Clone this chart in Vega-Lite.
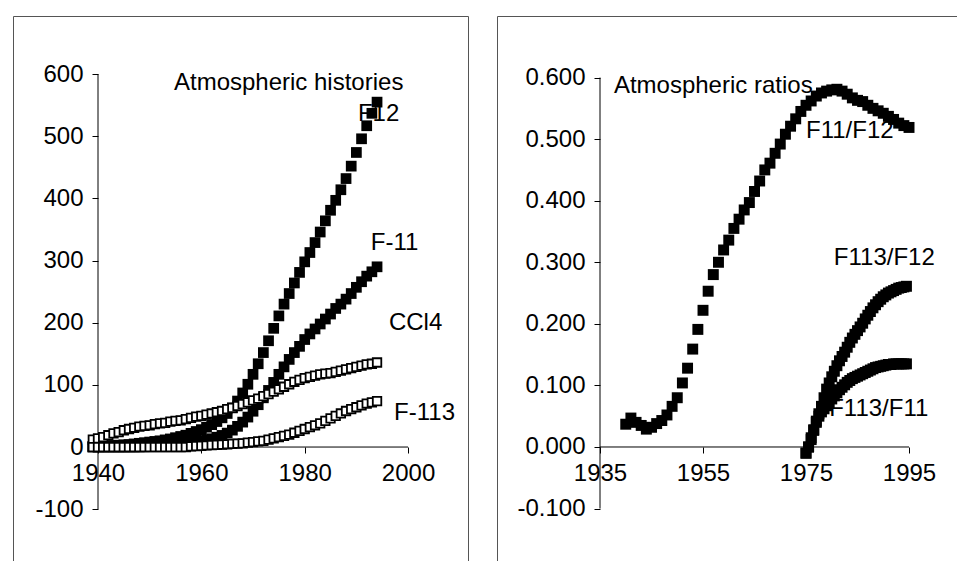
{
"$schema":"https://vega.github.io/schema/vega-lite/v6.json",
"padding":{"left":12,"top":15,"right":0,"bottom":0},
"spacing":27,
"background":"white",
"config":{"view":{"stroke":"#555","strokeWidth":1},"axis":{"domain":false,"grid":false,"tickColor":"black","tickSize":6,"tickWidth":1,"labelFont":"Liberation Sans","labelFontSize":24,"labelColor":"black","labelFlush":false,"labelOverlap":false}},
"datasets":{
"ax1":[{"x":1940,"y":-100,"x2":1940,"y2":600},{"x":1940,"y":0,"x2":2000,"y2":0}],
"ax2":[{"x":1935,"y":-0.1,"x2":1935,"y2":0.6},{"x":1935,"y":0,"x2":1995,"y2":0}],
"lab1":[{"x":1954.7,"y":585,"text":"Atmospheric histories"},{"x":1990.3,"y":536,"text":"F12"},{"x":1992.8,"y":328,"text":"F-11"},{"x":1996.3,"y":199,"text":"CCl4"},{"x":1997.3,"y":55,"text":"F-113"}],
"lab2":[{"x":1937.7,"y":0.586,"text":"Atmospheric ratios"},{"x":1975.0,"y":0.513,"text":"F11/F12"},{"x":1980.4,"y":0.307,"text":"F113/F12"},{"x":1979.5,"y":0.062,"text":"F113/F11"}],
"hist":[
{"s":"F12","x":1939,"y":1},{"s":"F12","x":1940,"y":1},{"s":"F12","x":1941,"y":1.5},{"s":"F12","x":1942,"y":2},{"s":"F12","x":1943,"y":2.5},{"s":"F12","x":1944,"y":3},{"s":"F12","x":1945,"y":3.5},{"s":"F12","x":1946,"y":4},{"s":"F12","x":1947,"y":5},{"s":"F12","x":1948,"y":6},{"s":"F12","x":1949,"y":7},{"s":"F12","x":1950,"y":8},{"s":"F12","x":1951,"y":9},{"s":"F12","x":1952,"y":10},{"s":"F12","x":1953,"y":11.5},{"s":"F12","x":1954,"y":13},{"s":"F12","x":1955,"y":15},{"s":"F12","x":1956,"y":17},{"s":"F12","x":1957,"y":19},{"s":"F12","x":1958,"y":22},{"s":"F12","x":1959,"y":25},{"s":"F12","x":1960,"y":28},{"s":"F12","x":1961,"y":32},{"s":"F12","x":1962,"y":36},{"s":"F12","x":1963,"y":41},{"s":"F12","x":1964,"y":47},{"s":"F12","x":1965,"y":54},{"s":"F12","x":1966,"y":63},{"s":"F12","x":1967,"y":74},{"s":"F12","x":1968,"y":87},{"s":"F12","x":1969,"y":101},{"s":"F12","x":1970,"y":117},{"s":"F12","x":1971,"y":134},{"s":"F12","x":1972,"y":152},{"s":"F12","x":1973,"y":171},{"s":"F12","x":1974,"y":191},{"s":"F12","x":1975,"y":211},{"s":"F12","x":1976,"y":230},{"s":"F12","x":1977,"y":247},{"s":"F12","x":1978,"y":264},{"s":"F12","x":1979,"y":281},{"s":"F12","x":1980,"y":298},{"s":"F12","x":1981,"y":313},{"s":"F12","x":1982,"y":329},{"s":"F12","x":1983,"y":346},{"s":"F12","x":1984,"y":364},{"s":"F12","x":1985,"y":381},{"s":"F12","x":1986,"y":397},{"s":"F12","x":1987,"y":414},{"s":"F12","x":1988,"y":432},{"s":"F12","x":1989,"y":452},{"s":"F12","x":1990,"y":474},{"s":"F12","x":1991,"y":496},{"s":"F12","x":1992,"y":517},{"s":"F12","x":1993,"y":537},{"s":"F12","x":1994,"y":555},
{"s":"F-11","x":1939,"y":0},{"s":"F-11","x":1940,"y":0},{"s":"F-11","x":1941,"y":0.1},{"s":"F-11","x":1942,"y":0.1},{"s":"F-11","x":1943,"y":0.1},{"s":"F-11","x":1944,"y":0.1},{"s":"F-11","x":1945,"y":0.1},{"s":"F-11","x":1946,"y":0.2},{"s":"F-11","x":1947,"y":0.2},{"s":"F-11","x":1948,"y":0.3},{"s":"F-11","x":1949,"y":0.5},{"s":"F-11","x":1950,"y":0.6},{"s":"F-11","x":1951,"y":0.9},{"s":"F-11","x":1952,"y":1.3},{"s":"F-11","x":1953,"y":1.8},{"s":"F-11","x":1954,"y":2.4},{"s":"F-11","x":1955,"y":3.3},{"s":"F-11","x":1956,"y":4.3},{"s":"F-11","x":1957,"y":5.3},{"s":"F-11","x":1958,"y":6.6},{"s":"F-11","x":1959,"y":8},{"s":"F-11","x":1960,"y":9.4},{"s":"F-11","x":1961,"y":11.4},{"s":"F-11","x":1962,"y":13.3},{"s":"F-11","x":1963,"y":15.8},{"s":"F-11","x":1964,"y":18.7},{"s":"F-11","x":1965,"y":22.4},{"s":"F-11","x":1966,"y":27.2},{"s":"F-11","x":1967,"y":33.3},{"s":"F-11","x":1968,"y":40.1},{"s":"F-11","x":1969,"y":48.2},{"s":"F-11","x":1970,"y":57.6},{"s":"F-11","x":1971,"y":68.1},{"s":"F-11","x":1972,"y":79.2},{"s":"F-11","x":1973,"y":91.1},{"s":"F-11","x":1974,"y":104},{"s":"F-11","x":1975,"y":117},{"s":"F-11","x":1976,"y":129},{"s":"F-11","x":1977,"y":141},{"s":"F-11","x":1978,"y":152},{"s":"F-11","x":1979,"y":162},{"s":"F-11","x":1980,"y":173},{"s":"F-11","x":1981,"y":182},{"s":"F-11","x":1982,"y":190},{"s":"F-11","x":1983,"y":198},{"s":"F-11","x":1984,"y":206},{"s":"F-11","x":1985,"y":214},{"s":"F-11","x":1986,"y":223},{"s":"F-11","x":1987,"y":230},{"s":"F-11","x":1988,"y":238},{"s":"F-11","x":1989,"y":247},{"s":"F-11","x":1990,"y":257},{"s":"F-11","x":1991,"y":266},{"s":"F-11","x":1992,"y":275},{"s":"F-11","x":1993,"y":282},{"s":"F-11","x":1994,"y":290},
{"s":"CCl4","x":1939,"y":12},{"s":"CCl4","x":1940,"y":14},{"s":"CCl4","x":1941,"y":16},{"s":"CCl4","x":1942,"y":19},{"s":"CCl4","x":1943,"y":22},{"s":"CCl4","x":1944,"y":24},{"s":"CCl4","x":1945,"y":27},{"s":"CCl4","x":1946,"y":29},{"s":"CCl4","x":1947,"y":31},{"s":"CCl4","x":1948,"y":33},{"s":"CCl4","x":1949,"y":34},{"s":"CCl4","x":1950,"y":35},{"s":"CCl4","x":1951,"y":37},{"s":"CCl4","x":1952,"y":38},{"s":"CCl4","x":1953,"y":39},{"s":"CCl4","x":1954,"y":41},{"s":"CCl4","x":1955,"y":42},{"s":"CCl4","x":1956,"y":43},{"s":"CCl4","x":1957,"y":45},{"s":"CCl4","x":1958,"y":47},{"s":"CCl4","x":1959,"y":49},{"s":"CCl4","x":1960,"y":50},{"s":"CCl4","x":1961,"y":52},{"s":"CCl4","x":1962,"y":54},{"s":"CCl4","x":1963,"y":56},{"s":"CCl4","x":1964,"y":58},{"s":"CCl4","x":1965,"y":61},{"s":"CCl4","x":1966,"y":63},{"s":"CCl4","x":1967,"y":66},{"s":"CCl4","x":1968,"y":69},{"s":"CCl4","x":1969,"y":72},{"s":"CCl4","x":1970,"y":75},{"s":"CCl4","x":1971,"y":78},{"s":"CCl4","x":1972,"y":82},{"s":"CCl4","x":1973,"y":85},{"s":"CCl4","x":1974,"y":89},{"s":"CCl4","x":1975,"y":93},{"s":"CCl4","x":1976,"y":97},{"s":"CCl4","x":1977,"y":101},{"s":"CCl4","x":1978,"y":105},{"s":"CCl4","x":1979,"y":108},{"s":"CCl4","x":1980,"y":111},{"s":"CCl4","x":1981,"y":113},{"s":"CCl4","x":1982,"y":115},{"s":"CCl4","x":1983,"y":117},{"s":"CCl4","x":1984,"y":118},{"s":"CCl4","x":1985,"y":119},{"s":"CCl4","x":1986,"y":121},{"s":"CCl4","x":1987,"y":123},{"s":"CCl4","x":1988,"y":125},{"s":"CCl4","x":1989,"y":127},{"s":"CCl4","x":1990,"y":129},{"s":"CCl4","x":1991,"y":131},{"s":"CCl4","x":1992,"y":133},{"s":"CCl4","x":1993,"y":134},{"s":"CCl4","x":1994,"y":136},
{"s":"F-113","x":1939,"y":0},{"s":"F-113","x":1940,"y":0},{"s":"F-113","x":1941,"y":0},{"s":"F-113","x":1942,"y":0},{"s":"F-113","x":1943,"y":0},{"s":"F-113","x":1944,"y":0},{"s":"F-113","x":1945,"y":0},{"s":"F-113","x":1946,"y":0},{"s":"F-113","x":1947,"y":0},{"s":"F-113","x":1948,"y":0},{"s":"F-113","x":1949,"y":0},{"s":"F-113","x":1950,"y":0},{"s":"F-113","x":1951,"y":0},{"s":"F-113","x":1952,"y":0},{"s":"F-113","x":1953,"y":0},{"s":"F-113","x":1954,"y":0},{"s":"F-113","x":1955,"y":0},{"s":"F-113","x":1956,"y":0},{"s":"F-113","x":1957,"y":0},{"s":"F-113","x":1958,"y":1},{"s":"F-113","x":1959,"y":1.5},{"s":"F-113","x":1960,"y":2},{"s":"F-113","x":1961,"y":2.5},{"s":"F-113","x":1962,"y":3},{"s":"F-113","x":1963,"y":3.5},{"s":"F-113","x":1964,"y":4},{"s":"F-113","x":1965,"y":4.5},{"s":"F-113","x":1966,"y":5},{"s":"F-113","x":1967,"y":5.5},{"s":"F-113","x":1968,"y":6},{"s":"F-113","x":1969,"y":7},{"s":"F-113","x":1970,"y":8},{"s":"F-113","x":1971,"y":9},{"s":"F-113","x":1972,"y":10},{"s":"F-113","x":1973,"y":12},{"s":"F-113","x":1974,"y":14},{"s":"F-113","x":1975,"y":16},{"s":"F-113","x":1976,"y":18},{"s":"F-113","x":1977,"y":20},{"s":"F-113","x":1978,"y":23},{"s":"F-113","x":1979,"y":26},{"s":"F-113","x":1980,"y":29},{"s":"F-113","x":1981,"y":32},{"s":"F-113","x":1982,"y":35},{"s":"F-113","x":1983,"y":38},{"s":"F-113","x":1984,"y":42},{"s":"F-113","x":1985,"y":46},{"s":"F-113","x":1986,"y":50},{"s":"F-113","x":1987,"y":54},{"s":"F-113","x":1988,"y":58},{"s":"F-113","x":1989,"y":61},{"s":"F-113","x":1990,"y":64},{"s":"F-113","x":1991,"y":67},{"s":"F-113","x":1992,"y":70},{"s":"F-113","x":1993,"y":72},{"s":"F-113","x":1994,"y":74}
],
"ratio":[
{"s":"F11/F12","x":1940,"y":0.037},{"s":"F11/F12","x":1941,"y":0.047},{"s":"F11/F12","x":1942,"y":0.040},{"s":"F11/F12","x":1943,"y":0.035},{"s":"F11/F12","x":1944,"y":0.029},{"s":"F11/F12","x":1945,"y":0.032},{"s":"F11/F12","x":1946,"y":0.038},{"s":"F11/F12","x":1947,"y":0.043},{"s":"F11/F12","x":1948,"y":0.052},{"s":"F11/F12","x":1949,"y":0.066},{"s":"F11/F12","x":1950,"y":0.080},{"s":"F11/F12","x":1951,"y":0.104},{"s":"F11/F12","x":1952,"y":0.128},{"s":"F11/F12","x":1953,"y":0.159},{"s":"F11/F12","x":1954,"y":0.191},{"s":"F11/F12","x":1955,"y":0.222},{"s":"F11/F12","x":1956,"y":0.253},{"s":"F11/F12","x":1957,"y":0.280},{"s":"F11/F12","x":1958,"y":0.300},{"s":"F11/F12","x":1959,"y":0.320},{"s":"F11/F12","x":1960,"y":0.336},{"s":"F11/F12","x":1961,"y":0.355},{"s":"F11/F12","x":1962,"y":0.370},{"s":"F11/F12","x":1963,"y":0.385},{"s":"F11/F12","x":1964,"y":0.397},{"s":"F11/F12","x":1965,"y":0.415},{"s":"F11/F12","x":1966,"y":0.432},{"s":"F11/F12","x":1967,"y":0.450},{"s":"F11/F12","x":1968,"y":0.461},{"s":"F11/F12","x":1969,"y":0.477},{"s":"F11/F12","x":1970,"y":0.492},{"s":"F11/F12","x":1971,"y":0.508},{"s":"F11/F12","x":1972,"y":0.521},{"s":"F11/F12","x":1973,"y":0.533},{"s":"F11/F12","x":1974,"y":0.545},{"s":"F11/F12","x":1975,"y":0.555},{"s":"F11/F12","x":1976,"y":0.562},{"s":"F11/F12","x":1977,"y":0.570},{"s":"F11/F12","x":1978,"y":0.575},{"s":"F11/F12","x":1979,"y":0.578},{"s":"F11/F12","x":1980,"y":0.580},{"s":"F11/F12","x":1981,"y":0.581},{"s":"F11/F12","x":1982,"y":0.578},{"s":"F11/F12","x":1983,"y":0.573},{"s":"F11/F12","x":1984,"y":0.567},{"s":"F11/F12","x":1985,"y":0.563},{"s":"F11/F12","x":1986,"y":0.561},{"s":"F11/F12","x":1987,"y":0.555},{"s":"F11/F12","x":1988,"y":0.550},{"s":"F11/F12","x":1989,"y":0.546},{"s":"F11/F12","x":1990,"y":0.542},{"s":"F11/F12","x":1991,"y":0.537},{"s":"F11/F12","x":1992,"y":0.532},{"s":"F11/F12","x":1993,"y":0.526},{"s":"F11/F12","x":1994,"y":0.522},{"s":"F11/F12","x":1995,"y":0.519},
{"s":"F113/F12","x":1975.0,"y":-0.010},{"s":"F113/F12","x":1975.5,"y":0.000},{"s":"F113/F12","x":1976.0,"y":0.015},{"s":"F113/F12","x":1976.5,"y":0.028},{"s":"F113/F12","x":1977.0,"y":0.042},{"s":"F113/F12","x":1977.5,"y":0.054},{"s":"F113/F12","x":1978.0,"y":0.066},{"s":"F113/F12","x":1978.5,"y":0.080},{"s":"F113/F12","x":1979.0,"y":0.094},{"s":"F113/F12","x":1979.5,"y":0.104},{"s":"F113/F12","x":1980.0,"y":0.114},{"s":"F113/F12","x":1980.5,"y":0.123},{"s":"F113/F12","x":1981.0,"y":0.132},{"s":"F113/F12","x":1981.5,"y":0.140},{"s":"F113/F12","x":1982.0,"y":0.147},{"s":"F113/F12","x":1982.5,"y":0.154},{"s":"F113/F12","x":1983.0,"y":0.162},{"s":"F113/F12","x":1983.5,"y":0.170},{"s":"F113/F12","x":1984.0,"y":0.177},{"s":"F113/F12","x":1984.5,"y":0.183},{"s":"F113/F12","x":1985.0,"y":0.189},{"s":"F113/F12","x":1985.5,"y":0.195},{"s":"F113/F12","x":1986.0,"y":0.201},{"s":"F113/F12","x":1986.5,"y":0.208},{"s":"F113/F12","x":1987.0,"y":0.214},{"s":"F113/F12","x":1987.5,"y":0.220},{"s":"F113/F12","x":1988.0,"y":0.226},{"s":"F113/F12","x":1988.5,"y":0.231},{"s":"F113/F12","x":1989.0,"y":0.236},{"s":"F113/F12","x":1989.5,"y":0.240},{"s":"F113/F12","x":1990.0,"y":0.244},{"s":"F113/F12","x":1990.5,"y":0.247},{"s":"F113/F12","x":1991.0,"y":0.250},{"s":"F113/F12","x":1991.5,"y":0.252},{"s":"F113/F12","x":1992.0,"y":0.254},{"s":"F113/F12","x":1992.5,"y":0.256},{"s":"F113/F12","x":1993.0,"y":0.258},{"s":"F113/F12","x":1993.5,"y":0.259},{"s":"F113/F12","x":1994.0,"y":0.260},{"s":"F113/F12","x":1994.5,"y":0.261},
{"s":"F113/F11","x":1975.0,"y":-0.010},{"s":"F113/F11","x":1975.5,"y":0.000},{"s":"F113/F11","x":1976.0,"y":0.012},{"s":"F113/F11","x":1976.5,"y":0.027},{"s":"F113/F11","x":1977.0,"y":0.040},{"s":"F113/F11","x":1977.5,"y":0.050},{"s":"F113/F11","x":1978.0,"y":0.057},{"s":"F113/F11","x":1978.5,"y":0.062},{"s":"F113/F11","x":1979.0,"y":0.067},{"s":"F113/F11","x":1979.5,"y":0.072},{"s":"F113/F11","x":1980.0,"y":0.078},{"s":"F113/F11","x":1980.5,"y":0.083},{"s":"F113/F11","x":1981.0,"y":0.088},{"s":"F113/F11","x":1981.5,"y":0.093},{"s":"F113/F11","x":1982.0,"y":0.097},{"s":"F113/F11","x":1982.5,"y":0.101},{"s":"F113/F11","x":1983.0,"y":0.105},{"s":"F113/F11","x":1983.5,"y":0.108},{"s":"F113/F11","x":1984.0,"y":0.111},{"s":"F113/F11","x":1984.5,"y":0.113},{"s":"F113/F11","x":1985.0,"y":0.115},{"s":"F113/F11","x":1985.5,"y":0.117},{"s":"F113/F11","x":1986.0,"y":0.119},{"s":"F113/F11","x":1986.5,"y":0.121},{"s":"F113/F11","x":1987.0,"y":0.123},{"s":"F113/F11","x":1987.5,"y":0.125},{"s":"F113/F11","x":1988.0,"y":0.127},{"s":"F113/F11","x":1988.5,"y":0.129},{"s":"F113/F11","x":1989.0,"y":0.130},{"s":"F113/F11","x":1989.5,"y":0.131},{"s":"F113/F11","x":1990.0,"y":0.132},{"s":"F113/F11","x":1990.5,"y":0.133},{"s":"F113/F11","x":1991.0,"y":0.134},{"s":"F113/F11","x":1991.5,"y":0.134},{"s":"F113/F11","x":1992.0,"y":0.135},{"s":"F113/F11","x":1992.5,"y":0.135},{"s":"F113/F11","x":1993.0,"y":0.135},{"s":"F113/F11","x":1993.5,"y":0.135},{"s":"F113/F11","x":1994.0,"y":0.135},{"s":"F113/F11","x":1994.5,"y":0.135}
]
},
"hconcat":[
{
"width":455,"height":546,
"encoding":{
"x":{"field":"x","type":"quantitative","scale":{"domain":[1923.55,2011.6],"nice":false,"zero":false},"axis":{"orient":"bottom","offset":-115,"values":[1940,1960,1980,2000],"format":"d","title":null,"labelPadding":8}},
"y":{"field":"y","type":"quantitative","scale":{"domain":[-185,693.6],"nice":false,"zero":false},"axis":{"orient":"left","offset":-85,"values":[-100,0,100,200,300,400,500,600],"title":null,"labelPadding":9,"labelExpr":"replace(datum.label,'−','-')"}}
},
"layer":[
{"data":{"name":"ax1"},"mark":{"type":"rule","color":"black","strokeWidth":1},"encoding":{"x2":{"field":"x2"},"y2":{"field":"y2"}}},
{"data":{"name":"lab1"},"mark":{"type":"text","align":"left","baseline":"middle","fontSize":24,"font":"Liberation Sans","color":"black"},"encoding":{"text":{"field":"text"}}},
{"data":{"name":"hist"},"transform":[{"filter":{"field":"s","oneOf":["F12","F-11"]}}],"mark":{"type":"point","shape":"square","size":115,"filled":true,"color":"black","opacity":1},"encoding":{"detail":{"field":"s"}}},
{"data":{"name":"hist"},"transform":[{"filter":{"field":"s","oneOf":["CCl4","F-113"]}}],"mark":{"type":"point","shape":"square","size":72,"fill":"white","stroke":"black","strokeWidth":1.8,"opacity":1,"fillOpacity":1},"encoding":{"detail":{"field":"s"}}}
]
},
{
"width":463,"height":546,
"encoding":{
"x":{"field":"x","type":"quantitative","scale":{"domain":[1915,2004.9],"nice":false,"zero":false},"axis":{"orient":"bottom","offset":-115,"values":[1935,1955,1975,1995],"format":"d","title":null,"labelPadding":8}},
"y":{"field":"y","type":"quantitative","scale":{"domain":[-0.1868,0.7],"nice":false,"zero":false},"axis":{"orient":"left","offset":-103,"values":[-0.1,0,0.1,0.2,0.3,0.4,0.5,0.6],"format":".3f","title":null,"labelPadding":9,"labelExpr":"replace(datum.label,'−','-')"}}
},
"layer":[
{"data":{"name":"ax2"},"mark":{"type":"rule","color":"black","strokeWidth":1},"encoding":{"x2":{"field":"x2"},"y2":{"field":"y2"}}},
{"data":{"name":"lab2"},"mark":{"type":"text","align":"left","baseline":"middle","fontSize":24,"font":"Liberation Sans","color":"black"},"encoding":{"text":{"field":"text"}}},
{"data":{"name":"ratio"},"mark":{"type":"point","shape":"square","size":120,"filled":true,"color":"black","opacity":1},"encoding":{"detail":{"field":"s"}}}
]
}
]
}
